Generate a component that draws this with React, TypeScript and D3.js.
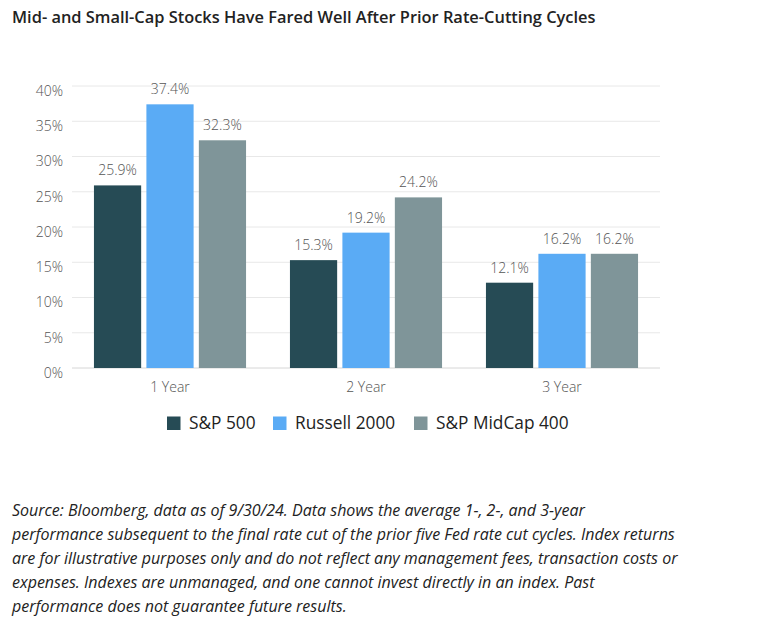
import React from "react";
import * as d3 from "d3";

const categories = ["1 Year", "2 Year", "3 Year"];
const seriesNames = ["S&P 500", "Russell 2000", "S&P MidCap 400"];
const sp500 = [25.9, 15.3, 12.1];
const russell2000 = [37.4, 19.2, 16.2];
const midcap400 = [32.3, 24.2, 16.2];
const yTicks = [0, 5, 10, 15, 20, 25, 30, 35, 40];
const colors = ["#264b55", "#5aabf5", "#7f9599"];
const title = "Mid- and Small-Cap Stocks Have Fared Well After Prior Rate-Cutting Cycles";
const footnote = [
  "Source: Bloomberg, data as of 9/30/24. Data shows the average 1-, 2-, and 3-year",
  "performance subsequent to the final rate cut of the prior five Fed rate cut cycles. Index returns",
  "are for illustrative purposes only and do not reflect any management fees, transaction costs or",
  "expenses. Indexes are unmanaged, and one cannot invest directly in an index. Past",
  "performance does not guarantee future results.",
];

const W = 767;
const H = 633;
const FONT = "'Open Sans', Lato, sans-serif";

export default function App() {
  const series = [sp500, russell2000, midcap400];
  const x0 = d3.scaleBand<string>().domain(categories).range([72, 660]).paddingInner(0.224).paddingOuter(0.112);
  const x1 = d3.scaleBand<string>().domain(seriesNames).range([0, x0.bandwidth()]).paddingInner(0.1).paddingOuter(0);
  const y = d3.scaleLinear().domain([0, 40]).range([368, 86]);

  const legendX = [167, 273, 414];

  return (
    <svg width={W} height={H} style={{ position: "absolute", left: 0, top: 0, background: "#fff" }} fontFamily={FONT}>
      <text x={12} y={23} fontSize={16.4} fontWeight={600} fill="#222">{title}</text>
      {yTicks.map((t) => (
        <g key={t}>
          <line x1={72} x2={660} y1={y(t)} y2={y(t)} stroke={t === 0 ? "#d6d6d6" : "#e8e8e8"} strokeWidth={1} />
          <text x={63} y={y(t) + 5} dy="0.35em" textAnchor="end" fontSize={14} fontWeight={300} fill="#555">{t}%</text>
        </g>
      ))}
      {categories.map((c, ci) => (
        <g key={c} transform={`translate(${x0(c)},0)`}>
          {seriesNames.map((s, si) => {
            const v = series[si][ci];
            const bx = x1(s)!;
            return (
              <g key={s}>
                <rect x={bx} y={y(v)} width={x1.bandwidth()} height={y(0) - y(v)} fill={colors[si]} />
                <text x={bx + x1.bandwidth() / 2} y={y(v) - 15} dy="0.35em" textAnchor="middle" fontSize={14} fontWeight={300} fill="#555">{v.toFixed(1)}%</text>
              </g>
            );
          })}
          <text x={x0.bandwidth() / 2} y={387.5} dy="0.35em" textAnchor="middle" fontSize={14} fontWeight={300} fill="#555">{c}</text>
        </g>
      ))}
      {seriesNames.map((s, i) => (
        <g key={s}>
          <rect x={legendX[i]} y={416.5} width={13.5} height={13.5} fill={colors[i]} />
          <text x={legendX[i] + 22} y={423} dy="0.35em" fontSize={17.3} fill="#222">{s}</text>
        </g>
      ))}
      {footnote.map((l, i) => (
        <text key={i} x={12} y={510 + i * 24.2} dy="0.35em" fontSize={16} fontStyle="italic" fill="#222">{l}</text>
      ))}
    </svg>
  );
}
